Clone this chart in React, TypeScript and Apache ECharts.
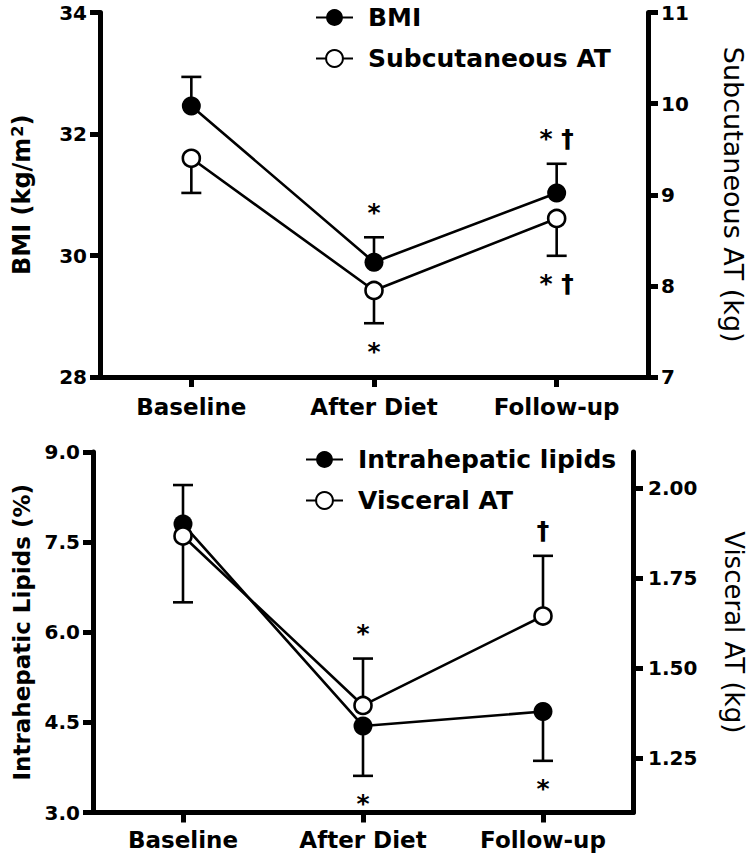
import React, { useEffect, useRef } from "react";
import * as echarts from "echarts";

// ---------- data ----------
const categories = ["Baseline", "After Diet", "Follow-up"];

// Top panel
const bmiMean = [32.46, 29.89, 31.03];
const bmiErrUp = [0.48, 0.41, 0.48];
const bmiErrDown = [0, 0, 0];
const bmiMarksAbove = ["", "*", "* †"];
const bmiMarksBelow = ["", "", ""];

const subMean = [9.4, 7.95, 8.74];
const subErrUp = [0, 0, 0];
const subErrDown = [0.38, 0.36, 0.41];
const subMarksAbove = ["", "", ""];
const subMarksBelow = ["", "*", "* †"];

// Bottom panel
const ihlMean = [7.8, 4.44, 4.68];
const ihlErrUp = [0.65, 0, 0];
const ihlErrDown = [0, 0.83, 0.82];
const ihlMarksAbove = ["", "", ""];
const ihlMarksBelow = ["", "*", "*"];

const vatMean = [1.867, 1.397, 1.645];
const vatErrUp = [0, 0.13, 0.167];
const vatErrDown = [0.184, 0, 0];
const vatMarksAbove = ["", "*", "†"];
const vatMarksBelow = ["", "", ""];

// axis ranges / ticks
const bmiRange = [28, 34, 2];
const subRange = [7, 11, 1];
const ihlRange = [3, 9, 1.5];
const vatRange = [1.1, 2.1];
const vatTicks = [1.25, 1.5, 1.75, 2.0];

// ---------- styling ----------
const FONT = "DejaVu Sans";
const BLACK = "#000";
const LW = 2.6;
const AXW = 5;
const TICKLEN = 10;

function errorSeries(
  mean: number[],
  up: number[],
  down: number[],
  above: string[],
  below: string[],
  xAxisIndex: number,
  yAxisIndex: number
) {
  return {
    type: "custom",
    xAxisIndex,
    yAxisIndex,
    z: 1,
    silent: true,
    clip: false,
    data: mean.map((m, i) => [i, m, up[i], down[i]]),
    renderItem: (params: any, api: any) => {
      const i = api.value(0);
      const m = api.value(1);
      const u = api.value(2);
      const d = api.value(3);
      const c = api.coord([i, m]);
      const cap = 10;
      const style = { stroke: BLACK, lineWidth: LW, fill: null };
      const children: any[] = [];
      let topY = c[1];
      let botY = c[1];
      if (u > 0) {
        const p = api.coord([i, m + u]);
        topY = p[1];
        children.push({ type: "line", shape: { x1: c[0], y1: c[1], x2: p[0], y2: p[1] }, style });
        children.push({ type: "line", shape: { x1: p[0] - cap, y1: p[1], x2: p[0] + cap, y2: p[1] }, style });
      }
      if (d > 0) {
        const p = api.coord([i, m - d]);
        botY = p[1];
        children.push({ type: "line", shape: { x1: c[0], y1: c[1], x2: p[0], y2: p[1] }, style });
        children.push({ type: "line", shape: { x1: p[0] - cap, y1: p[1], x2: p[0] + cap, y2: p[1] }, style });
      }
      const idx = params.dataIndex;
      const ts = {
        fill: BLACK,
        fontSize: 25,
        fontWeight: "bold",
        fontFamily: FONT,
        align: "center",
        verticalAlign: "middle",
      };
      if (above[idx]) {
        children.push({ type: "text", x: c[0], y: topY - 25, style: { ...ts, text: above[idx] } });
      }
      if (below[idx]) {
        children.push({ type: "text", x: c[0], y: botY + 28, style: { ...ts, text: below[idx] } });
      }
      return { type: "group", children };
    },
  };
}

function lineSeries(name: string, data: number[], filled: boolean, xAxisIndex: number, yAxisIndex: number, z: number) {
  return {
    name,
    type: "line",
    xAxisIndex,
    yAxisIndex,
    data,
    z,
    symbol: "circle",
    symbolSize: filled ? 19 : 17,
    showSymbol: true,
    lineStyle: { color: BLACK, width: LW },
    itemStyle: filled
      ? { color: BLACK, borderColor: BLACK, borderWidth: 0 }
      : { color: "#fff", borderColor: BLACK, borderWidth: LW },
  };
}

function axisLineStyle() {
  return { color: BLACK, width: AXW };
}

function xAxis(gridIndex: number, margin: number) {
  return {
    gridIndex,
    type: "category",
    data: categories,
    boundaryGap: true,
    axisLine: { show: true, onZero: false, lineStyle: axisLineStyle() },
    axisTick: { show: true, alignWithLabel: true, length: TICKLEN, lineStyle: axisLineStyle() },
    axisLabel: { color: BLACK, fontSize: 23, fontWeight: "bold", fontFamily: FONT, margin },
    splitLine: { show: false },
  };
}

function yAxis(opts: any) {
  const { name, nameGap, bold, nameSize, rotate, position, labelMargin, ...rest } = opts;
  return {
    type: "value",
    position,
    name,
    nameLocation: "middle",
    nameGap,
    nameRotate: rotate,
    nameTextStyle: {
      color: BLACK,
      fontSize: nameSize,
      fontWeight: bold ? "bold" : "normal",
      fontFamily: FONT,
      rich: {
        sup: { fontSize: 16, fontWeight: "bold", fontFamily: FONT, color: BLACK, verticalAlign: "top", padding: [0, 0, 10, 1] },
      },
    },
    axisLine: { show: true, onZero: false, lineStyle: axisLineStyle() },
    axisTick: { show: true, length: TICKLEN, lineStyle: axisLineStyle() },
    axisLabel: { color: BLACK, fontSize: 20, fontWeight: "bold", fontFamily: FONT, margin: labelMargin },
    splitLine: { show: false },
    ...rest,
  };
}

function legendBase() {
  return {
    orient: "vertical",
    itemWidth: 37,
    itemHeight: 21,
    itemGap: 16,
    textStyle: { color: BLACK, fontSize: 25, fontWeight: "bold", fontFamily: FONT, padding: [0, 0, 0, 10] },
  };
}

export default function App() {
  const ref = useRef<HTMLDivElement>(null);
  useEffect(() => {
    if (!ref.current) return;
    const chart = echarts.init(ref.current, null, { renderer: "svg" });
    const option: any = {
      animation: false,
      backgroundColor: "#fff",
      grid: [
        { left: 100, top: 12.5, width: 548, height: 364.5 },
        { left: 93, top: 452, width: 541, height: 360.5 },
      ],
      legend: [
        { ...legendBase(), data: ["BMI", "Subcutaneous AT"], left: 310, top: 0 },
        { ...legendBase(), data: ["Intrahepatic lipids", "Visceral AT"], left: 300, top: 442 },
      ],
      xAxis: [xAxis(0, 18), xAxis(1, 16)],
      yAxis: [
        yAxis({
          gridIndex: 0, position: "left", min: bmiRange[0], max: bmiRange[1], interval: bmiRange[2],
          name: "BMI (kg/m{sup|2})", nameGap: 65, bold: true, nameSize: 24, rotate: 90, labelMargin: 13,
        }),
        yAxis({
          gridIndex: 0, position: "right", min: subRange[0], max: subRange[1], interval: subRange[2],
          name: "Subcutaneous AT (kg)", nameGap: 72, bold: false, nameSize: 27, rotate: -90, labelMargin: 13,
        }),
        yAxis({
          gridIndex: 1, position: "left", min: ihlRange[0], max: ihlRange[1], interval: ihlRange[2],
          name: "Intrahepatic Lipids (%)", nameGap: 58, bold: true, nameSize: 23, rotate: 90, labelMargin: 13,
          axisLabel: { color: BLACK, fontSize: 20, fontWeight: "bold", fontFamily: FONT, margin: 13, formatter: (v: number) => v.toFixed(1) },
        }),
        yAxis({
          gridIndex: 1, position: "right", min: vatRange[0], max: vatRange[1],
          name: "Visceral AT (kg)", nameGap: 88, bold: false, nameSize: 26, rotate: -90, labelMargin: 15,
          axisTick: { show: true, length: TICKLEN, lineStyle: axisLineStyle(), customValues: vatTicks },
          axisLabel: {
            color: BLACK, fontSize: 20, fontWeight: "bold", fontFamily: FONT, margin: 15,
            customValues: vatTicks, formatter: (v: number) => v.toFixed(2),
          },
        }),
      ],
      series: [
        errorSeries(bmiMean, bmiErrUp, bmiErrDown, bmiMarksAbove, bmiMarksBelow, 0, 0),
        errorSeries(subMean, subErrUp, subErrDown, subMarksAbove, subMarksBelow, 0, 1),
        lineSeries("BMI", bmiMean, true, 0, 0, 3),
        lineSeries("Subcutaneous AT", subMean, false, 0, 1, 4),
        errorSeries(ihlMean, ihlErrUp, ihlErrDown, ihlMarksAbove, ihlMarksBelow, 1, 2),
        errorSeries(vatMean, vatErrUp, vatErrDown, vatMarksAbove, vatMarksBelow, 1, 3),
        lineSeries("Intrahepatic lipids", ihlMean, true, 1, 2, 3),
        lineSeries("Visceral AT", vatMean, false, 1, 3, 4),
      ],
    };
    chart.setOption(option);
    return () => chart.dispose();
  }, []);
  return (
    <div
      ref={ref}
      style={{ position: "absolute", left: 0, top: 0, width: 755, height: 861, background: "#fff" }}
    />
  );
}
